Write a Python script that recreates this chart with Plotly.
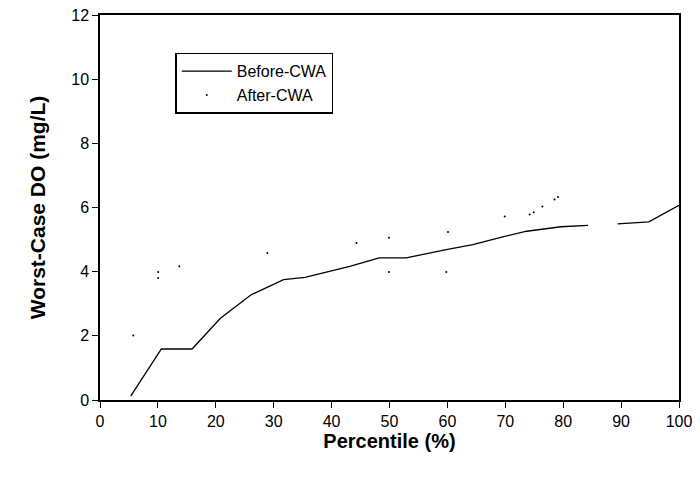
import plotly.graph_objects as go

# Before-CWA curve (percentile, worst-case DO)
before_x = [5.3, 10.6, 15.9, 20.8, 26.1, 31.7, 35.4, 39.3, 43.3, 48.2, 52.9,
            59.8, 64.4, 69.4, 73.7, 79.6, 84.3, None, 89.4, 94.8, 100]
before_y = [0.12, 1.59, 1.59, 2.55, 3.28, 3.75, 3.82, 4.0, 4.17, 4.43, 4.43,
            4.69, 4.84, 5.08, 5.26, 5.40, 5.44, None, 5.49, 5.55, 6.07]

# After-CWA scattered points
after_x = [5.75, 10.05, 10.05, 13.7, 28.9, 44.3, 49.9, 49.9, 59.8, 60.1,
           69.9, 74.2, 74.9, 76.4, 78.5, 79.1]
after_y = [2.01, 3.99, 3.80, 4.17, 4.58, 4.89, 5.06, 3.99, 3.99, 5.24,
           5.72, 5.78, 5.85, 6.03, 6.25, 6.33]

x_ticks = [0, 10, 20, 30, 40, 50, 60, 70, 80, 90, 100]
y_ticks = [0, 2, 4, 6, 8, 10, 12]

fig = go.Figure()
fig.add_trace(go.Scatter(x=before_x, y=before_y, mode="lines", name="Before-CWA",
                         line=dict(color="black", width=1.3), connectgaps=False))
fig.add_trace(go.Scatter(x=after_x, y=after_y, mode="markers", name="After-CWA",
                         marker=dict(color="black", size=2)))

base_font = "Liberation Sans, Arial, sans-serif"
fig.update_layout(
    width=700, height=478,
    margin=dict(l=100, r=21, t=15, b=78, autoexpand=False),
    paper_bgcolor="white", plot_bgcolor="white",
    font=dict(family=base_font, size=16, color="black"),
    showlegend=True,
    legend=dict(x=0.13, y=0.902, xanchor="left", yanchor="top",
                bordercolor="black", borderwidth=1.5, bgcolor="white",
                font=dict(family=base_font, size=16, color="black"),
                tracegroupgap=0, itemwidth=50),
)
fig.update_xaxes(range=[0, 100], tickvals=x_ticks, ticktext=[str(v) for v in x_ticks],
                 showgrid=False, zeroline=False, showline=True, linecolor="black",
                 linewidth=1.5, mirror=True, ticks="outside", ticklen=6, tickwidth=1.2,
                 tickcolor="black", automargin=False,
                 title=dict(text="<b>Percentile (%)</b>",
                            font=dict(family=base_font, size=20, color="black"), standoff=0))
fig.update_yaxes(range=[0, 12], tickvals=y_ticks, ticktext=[str(v) for v in y_ticks],
                 showgrid=False, zeroline=False, showline=True, linecolor="black",
                 linewidth=1.5, mirror=True, ticks="outside", ticklen=6, tickwidth=1.2,
                 tickcolor="black", automargin=False,
                 title=dict(text="<b>Worst-Case DO (mg/L)</b>",
                            font=dict(family=base_font, size=21, color="black"), standoff=20))

# remove the browser's default 8px body margin so the figure fills the window
fig.write_html("out.html", config={"displayModeBar": False},
               post_script="document.body.style.margin='0';")
